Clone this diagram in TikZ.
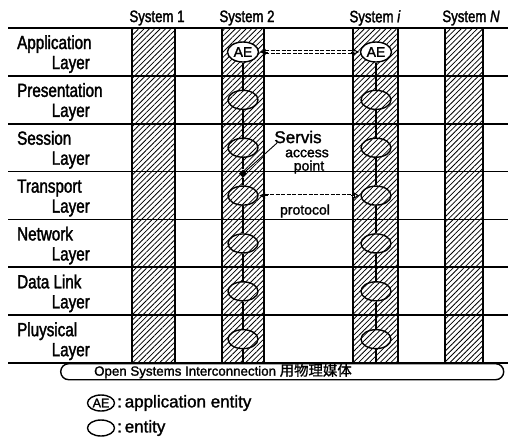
\documentclass[tikz,border=0pt]{standalone}
\usepackage{fontspec}
\setmainfont[FakeBold=1.5]{Liberation Sans}
\newfontfamily\narrowfont[FakeStretch=0.8,FakeBold=1.8]{Liberation Sans}
\newfontfamily\cjkfont[FakeBold=1.2]{Noto Sans CJK SC}
\usetikzlibrary{patterns.meta,arrows.meta,shapes.geometric}
\newcommand\setfs[1]{\fontsize{#1}{#1}\selectfont}
\pgfdeclarelayer{back}
\pgfdeclarelayer{mid}
\pgfsetlayers{back,mid,main}
\begin{document}
\begin{tikzpicture}[x=1pt,y=-1pt,
  hatch/.style={pattern={Lines[angle=45,distance=3.8pt,line width=0.8pt]}},
  column/.style={hatch,draw,line width=1.4pt},
  layerline/.style={line width=1.7pt},
  entity/.style={ellipse,draw,line width=1.4pt,minimum width=30pt,minimum height=19pt,
    inner sep=0pt,preaction={fill=white},hatch},
  aent/.style={ellipse,draw,line width=1.4pt,fill=white,minimum width=31pt,
    minimum height=20pt,inner sep=0pt,font=\setfs{14}},
  chain/.style={line width=1.4pt},
  peer/.style={double,double distance=2pt,line width=0.9pt,
    dash pattern=on 4pt off 1.5pt,shorten >=6pt,shorten <=6pt},
  peertip/.style={line width=1pt,-{Latex[open,length=6pt,width=7pt]}},
  hdr/.style={font=\narrowfont\setfs{16.5}},
  lab/.style={font=\narrowfont\setfs{19},inner sep=0pt},
  note/.style={font=\setfs{14},inner sep=0pt}
]
\useasboundingbox (0,0) rectangle (508,447);

% hatched system columns and layer boundaries
\begin{pgfonlayer}{back}
  \path[column] (132,28) rectangle (175,363);
  \path[column] (222,28) rectangle (264,363);
  \path[column] (353,28) rectangle (398,363);
  \path[column] (445,28) rectangle (483,363);
  \draw[line width=1.4pt] (8,28) -- (508,28);
  \foreach \k in {1,...,7}
    \draw[layerline] (8,{28+47.86*\k}) -- (508,{28+47.86*\k});
\end{pgfonlayer}

% system headers
\node[hdr] (h1) at (157,18) {System 1};
\node[hdr] (h2) at (247,18) {System 2};
\node[hdr] (hi) at (375,18) {System \textit{i}};
\node[hdr] (hN) at (471,18) {System \textit{N}};

% layer names
\foreach \name [count=\k from 0] in {Application,Presentation,Session,Transport,Network,Data Link,Pluysical}{
  \node[lab,anchor=base west] (ln\k) at (17,{28+47.86*\k+21}) {\name};
  \node[lab,anchor=base east] (ll\k) at (90,{28+47.86*\k+41}) {Layer};
}

% application entities and entities
\node[aent] (ae2) at (243,52) {AE};
\node[aent] (aei) at (376,52) {AE};
\foreach \k in {1,...,6}{
  \node[entity] (e2-\k) at (243,{52+47.86*\k}) {};
  \node[entity] (ei-\k) at (376,{52+47.86*\k}) {};
}
\node[diamond,fill=black,minimum size=8pt,inner sep=0pt] (sap) at (243,173.6) {};
\coordinate (bot2) at (243,363);
\coordinate (boti) at (376,363);

% vertical links between the layers of each system
\begin{pgfonlayer}{mid}
  \draw[chain] (ae2) -- (e2-1) -- (e2-2) -- (sap) -- (e2-3) -- (e2-4) -- (e2-5) -- (e2-6) -- (bot2);
  \draw[chain] (aei) -- (ei-1) -- (ei-2) -- (ei-3) -- (ei-4) -- (ei-5) -- (ei-6) -- (boti);
\end{pgfonlayer}

% peer-to-peer relations: double dashed shaft with open tips at both ends
\draw[peer] (ae2.east) -- (aei.west);
\draw[peertip] ([xshift=9pt]ae2.east) -- ([xshift=0.5pt]ae2.east);
\draw[peertip] ([xshift=-9pt]aei.west) -- ([xshift=-0.5pt]aei.west);
\draw[peer] (e2-3.east) -- (ei-3.west);
\draw[peertip] ([xshift=9pt]e2-3.east) -- ([xshift=0.5pt]e2-3.east);
\draw[peertip] ([xshift=-9pt]ei-3.west) -- ([xshift=-0.5pt]ei-3.west);
\node[note] (proto) at (305,211) {protocol};

% service access point label
\node[font=\setfs{17},inner sep=0pt] (servis) at (298,137) {Servis};
\node[note] (access) at (307,153.5) {access};
\node[note] (point) at (309,167) {point};
\coordinate (servtail) at (277,143);
\draw[line width=0.9pt] (servtail) -- (sap);

% physical medium
\node[draw,line width=1.4pt,rounded corners=8pt,minimum width=443pt,minimum height=16pt,
  anchor=north west,inner sep=0pt] (medium) at (60,363) {};
\node[anchor=west,inner sep=0pt,font=\setfs{13.3}] (mtext) at (94,371)
  {Open Systems Interconnection {\cjkfont\setfs{14.4}用物理媒体}};

% legend
\node[aent,minimum width=27pt,minimum height=16pt,font=\setfs{12.5}] (legae) at (101,403) {AE};
\node[anchor=west,inner sep=0pt,font=\setfs{17}] (legaet) at (117,403) {:\,application entity};
\node[ellipse,draw,line width=1.4pt,minimum width=27pt,minimum height=16pt,inner sep=0pt] (legent) at (101,428) {};
\node[anchor=west,inner sep=0pt,font=\setfs{17}] (legentt) at (117,428) {:\,entity};
\end{tikzpicture}
\end{document}
